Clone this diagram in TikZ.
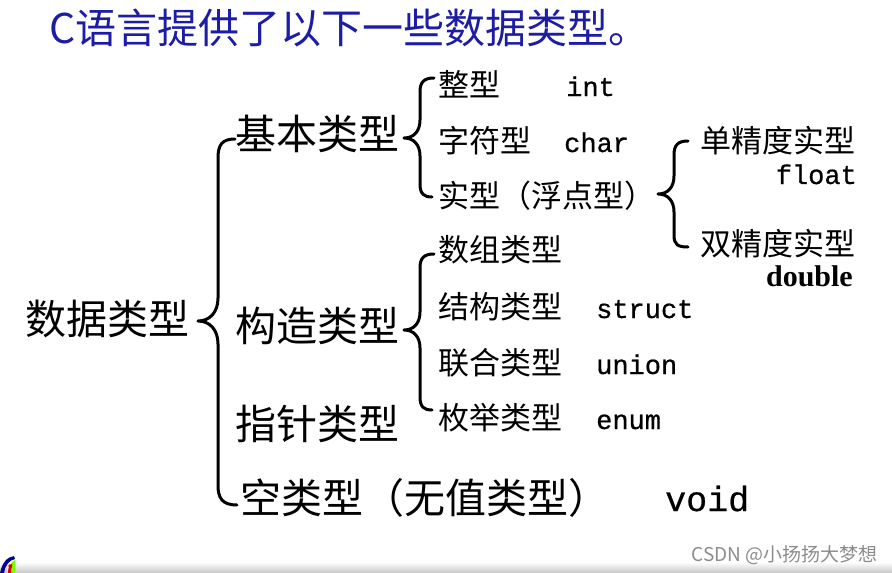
\documentclass[tikz,border=0pt]{standalone}
\usepackage{fontspec}
\setmainfont{Liberation Serif}
\newfontfamily\cjk{Noto Sans CJK SC}
\newfontfamily\mono[FakeBold=0.6]{Liberation Mono}
\definecolor{titleblue}{RGB}{28,28,165}
\begin{document}
\begin{tikzpicture}[x=1pt,y=-1pt,
  t1/.style={font=\cjk\fontsize{41}{41}\selectfont, anchor=base west, inner sep=0},
  t2/.style={font=\cjk\fontsize{31}{31}\selectfont, anchor=base west, inner sep=0},
  code/.style={font=\mono\fontsize{27}{27}\selectfont, anchor=base west, inner sep=0},
  bracepath/.style={line width=3pt, line cap=round, line join=round}]
\useasboundingbox (0,0) rectangle (892,573);
\fill[white] (0,0) rectangle (892,573);
% title
\node[font=\cjk\fontsize{41}{41}\selectfont, text=titleblue, anchor=base west, inner sep=0] (title) at (49,43) {C语言提供了以下一些数据类型。};
% level 0/1
\node[t1] (root) at (25,334) {数据类型};
\node[t1] (basic) at (235,149) {基本类型};
\node[t1] (cons) at (235,341) {构造类型};
\node[t1] (ptr) at (235,439) {指针类型};
\node[t1] (void) at (240,513) {空类型（无值类型）};
\node[font=\mono\fontsize{35}{35}\selectfont, anchor=base west, inner sep=0] (voidkw) at (665,511) {void};
% basic
\node[t2] (int) at (438,96) {整型};
\node[code] (intkw) at (566,96) {int};
\node[t2] (chr) at (438,152) {字符型};
\node[code] (chrkw) at (564,152) {char};
\node[t2] (real) at (438,207) {实型（浮点型）};
% real
\node[t2] (single) at (700,152) {单精度实型};
\node[code, anchor=base east] (floatkw) at (857,184) {float};
\node[t2] (dbl) at (700,255) {双精度实型};
\node[font=\bfseries\fontsize{30}{30}\selectfont, anchor=base east, inner sep=0] (dblkw) at (853,286) {double};
% constructed
\node[t2] (arr) at (438,261) {数组类型};
\node[t2] (st) at (438,318) {结构类型};
\node[code] (stkw) at (596,318) {struct};
\node[t2] (un) at (438,374) {联合类型};
\node[code] (unkw) at (596,374) {union};
\node[t2] (en) at (438,429) {枚举类型};
\node[code] (enkw) at (596,429) {enum};
% braces
\draw[bracepath] (235,139) .. controls (222,139) and (218,145) .. (218,158)
  -- (218,298) .. controls (218,312) and (210,321) .. (198,321)
  .. controls (210,321) and (218,330) .. (218,344)
  -- (218,485) .. controls (218,498) and (222,505) .. (237,505);
\draw[bracepath] (434,78) .. controls (424,78) and (420,82) .. (420,92)
  -- (420,120) .. controls (420,131) and (414,138) .. (404,138)
  .. controls (414,138) and (420,145) .. (420,156)
  -- (420,184) .. controls (420,194) and (424,197) .. (432,197);
\draw[bracepath] (434,254) .. controls (424,254) and (420,258) .. (420,268)
  -- (420,312) .. controls (420,323) and (414,330) .. (404,330)
  .. controls (414,330) and (420,337) .. (420,348)
  -- (420,397) .. controls (420,407) and (424,410) .. (432,410);
\draw[bracepath] (688,141) .. controls (678,141) and (674,145) .. (674,155)
  -- (674,176) .. controls (674,187) and (668,194) .. (658,194)
  .. controls (668,194) and (674,201) .. (674,212)
  -- (674,235) .. controls (674,245) and (678,247) .. (688,247);
% footer
\shade[top color=white, bottom color=black!22] (0,562) rectangle (892,573);
\node[font=\cjk\fontsize{19}{19}\selectfont, text=black!45, anchor=base east, inner sep=0] (wm) at (878,561) {CSDN @小扬扬大梦想};
% logo
\fill[green!55!yellow] (8,573) .. controls (9,565) and (12,561) .. (15,560) -- (15,573) -- cycle;
\fill[blue!60!black] (0,573) .. controls (2,563) and (7,557) .. (14,556) -- (15,559) .. controls (9,560) and (5,566) .. (4,573) -- cycle;
\fill[red!90!black] (8,573) .. controls (8,567) and (10,564) .. (12,564) -- (12,567) .. controls (11,568) and (11,570) .. (11,573) -- cycle;
\fill[red!90!black] (10,566) circle (1.8);
\end{tikzpicture}
\end{document}
